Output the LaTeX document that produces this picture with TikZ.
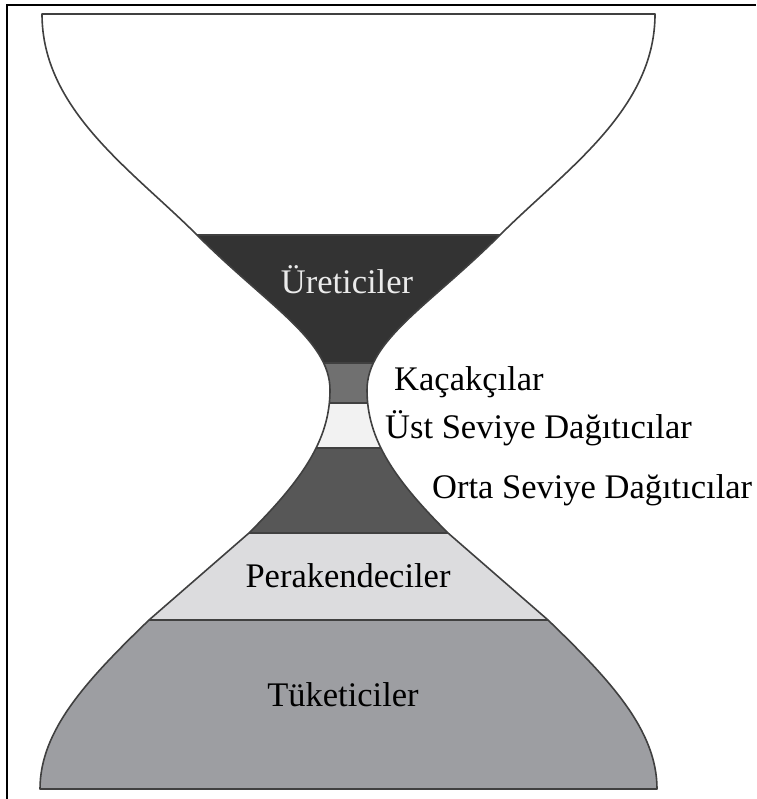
\documentclass[tikz,border=0pt]{standalone}
\usepackage{fontspec}
\setmainfont{Liberation Serif}
\definecolor{cUret}{HTML}{333333}
\definecolor{cKac}{HTML}{707070}
\definecolor{cUst}{HTML}{F2F2F2}
\definecolor{cOrta}{HTML}{575757}
\definecolor{cPer}{HTML}{DCDCDE}
\definecolor{cTuk}{HTML}{9D9EA2}
\definecolor{cLine}{HTML}{404040}
\tikzset{
  outline/.style={draw=cLine, line width=1.6pt, line join=round},
  divider/.style={draw=cLine, line width=1.4pt},
  frameline/.style={draw=black, line width=2.2pt},
  lbl/.style={inner sep=0pt, font=\fontsize{34.5}{40}\selectfont, text=black},
}
\def\hg{(655,14) .. controls (655,110) and (565,170) .. (500,235)
 .. controls (430,305) and (367,340) .. (367,390)
 .. controls (367,440) and (395,480) .. (448,533) -- (548,620)
 .. controls (610,680) and (657,730) .. (657,789) -- (40,789)
 .. controls (40,730) and (87,680) .. (149,620) -- (249,533)
 .. controls (302,480) and (330,440) .. (330,390)
 .. controls (330,340) and (267,305) .. (197,235)
 .. controls (132,170) and (42,110) .. (42,14) -- cycle}
\begin{document}
\begin{tikzpicture}[x=1pt,y=-1pt]
\useasboundingbox (0,0) rectangle (756,799);
\fill[white] (0,0) rectangle (756,799);
\draw[frameline] (7,799) -- (7,5) -- (756,5);
\begin{scope}
  \clip \hg;
  \fill[cUret] (0,235) rectangle (756,363);
  \fill[cKac] (0,363) rectangle (756,403);
  \fill[cUst] (0,403) rectangle (756,448);
  \fill[cOrta] (0,448) rectangle (756,533);
  \fill[cPer] (0,533) rectangle (756,620);
  \fill[cTuk] (0,620) rectangle (756,789);
  \foreach \yy in {235,363,403,448,533,620} {\draw[divider] (0,\yy) -- (756,\yy);}
\end{scope}
\draw[outline] \hg;
\node[lbl, text=white!92!black, anchor=base] (uret) at (347,293) {Üreticiler};
\node[lbl, anchor=base west] (kac) at (394,390) {Kaçakçılar};
\node[lbl, anchor=base west] (ust) at (385,438) {Üst Seviye Dağıtıcılar};
\node[lbl, anchor=base west] (orta) at (432,498) {Orta Seviye Dağıtıcılar};
\node[lbl, anchor=base] (per) at (348,587) {Perakendeciler};
\node[lbl, anchor=base] (tuk) at (343,706) {Tüketiciler};
\end{tikzpicture}
\end{document}
